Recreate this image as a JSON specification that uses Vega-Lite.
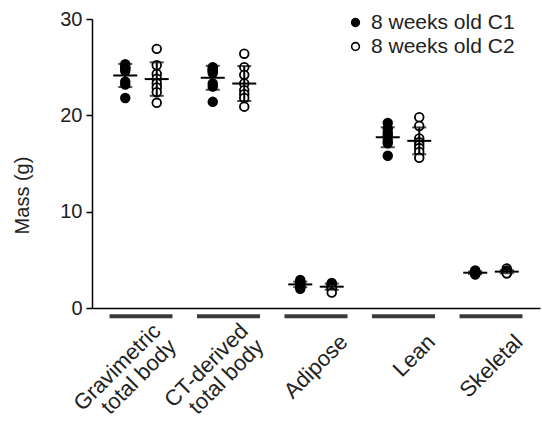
{
  "$schema": "https://vega.github.io/schema/vega-lite/v6.json",
  "width": 448,
  "height": 289,
  "autosize": {"type": "none"},
  "padding": {"left": 92, "top": 19, "right": 2, "bottom": 121},
  "background": "white",
  "config": {
    "view": {"stroke": null},
    "font": "Liberation Sans",
    "axis": {"grid": false, "domainColor": "black", "domainWidth": 1.5, "labelColor": "#222", "titleColor": "#222", "labelFont": "Liberation Sans", "titleFont": "Liberation Sans", "titleFontWeight": "normal"},
    "axisY": {
      "tickSize": 6,
      "tickWidth": 1.5,
      "tickColor": "black",
      "labelFontSize": 20,
      "labelPadding": 4,
      "titleFontSize": 20,
      "titleAngle": -90,
      "titleX": -70,
      "titleY": 176,
      "titleAlign": "center",
      "titleBaseline": "middle"
    },
    "legend": {"labelFont": "Liberation Sans"}
  },
  "datasets": {
    "mice": [
      {"tissue": "Gravimetric total body", "group": "8 weeks old C1", "mass": 25.3},
      {"tissue": "Gravimetric total body", "group": "8 weeks old C1", "mass": 25.0},
      {"tissue": "Gravimetric total body", "group": "8 weeks old C1", "mass": 24.8},
      {"tissue": "Gravimetric total body", "group": "8 weeks old C1", "mass": 24.9},
      {"tissue": "Gravimetric total body", "group": "8 weeks old C1", "mass": 24.6},
      {"tissue": "Gravimetric total body", "group": "8 weeks old C1", "mass": 23.5},
      {"tissue": "Gravimetric total body", "group": "8 weeks old C1", "mass": 23.2},
      {"tissue": "Gravimetric total body", "group": "8 weeks old C1", "mass": 21.8},
      {"tissue": "Gravimetric total body", "group": "8 weeks old C2", "mass": 26.9},
      {"tissue": "Gravimetric total body", "group": "8 weeks old C2", "mass": 25.2},
      {"tissue": "Gravimetric total body", "group": "8 weeks old C2", "mass": 24.3},
      {"tissue": "Gravimetric total body", "group": "8 weeks old C2", "mass": 23.8},
      {"tissue": "Gravimetric total body", "group": "8 weeks old C2", "mass": 23.3},
      {"tissue": "Gravimetric total body", "group": "8 weeks old C2", "mass": 22.9},
      {"tissue": "Gravimetric total body", "group": "8 weeks old C2", "mass": 22.4},
      {"tissue": "Gravimetric total body", "group": "8 weeks old C2", "mass": 21.3},
      {"tissue": "CT-derived total body", "group": "8 weeks old C1", "mass": 25.0},
      {"tissue": "CT-derived total body", "group": "8 weeks old C1", "mass": 24.8},
      {"tissue": "CT-derived total body", "group": "8 weeks old C1", "mass": 24.6},
      {"tissue": "CT-derived total body", "group": "8 weeks old C1", "mass": 24.4},
      {"tissue": "CT-derived total body", "group": "8 weeks old C1", "mass": 24.7},
      {"tissue": "CT-derived total body", "group": "8 weeks old C1", "mass": 23.3},
      {"tissue": "CT-derived total body", "group": "8 weeks old C1", "mass": 23.0},
      {"tissue": "CT-derived total body", "group": "8 weeks old C1", "mass": 21.4},
      {"tissue": "CT-derived total body", "group": "8 weeks old C2", "mass": 26.4},
      {"tissue": "CT-derived total body", "group": "8 weeks old C2", "mass": 25.0},
      {"tissue": "CT-derived total body", "group": "8 weeks old C2", "mass": 24.2},
      {"tissue": "CT-derived total body", "group": "8 weeks old C2", "mass": 23.3},
      {"tissue": "CT-derived total body", "group": "8 weeks old C2", "mass": 22.6},
      {"tissue": "CT-derived total body", "group": "8 weeks old C2", "mass": 22.2},
      {"tissue": "CT-derived total body", "group": "8 weeks old C2", "mass": 21.8},
      {"tissue": "CT-derived total body", "group": "8 weeks old C2", "mass": 20.9},
      {"tissue": "Adipose", "group": "8 weeks old C1", "mass": 2.9},
      {"tissue": "Adipose", "group": "8 weeks old C1", "mass": 2.7},
      {"tissue": "Adipose", "group": "8 weeks old C1", "mass": 2.6},
      {"tissue": "Adipose", "group": "8 weeks old C1", "mass": 2.5},
      {"tissue": "Adipose", "group": "8 weeks old C1", "mass": 2.4},
      {"tissue": "Adipose", "group": "8 weeks old C1", "mass": 2.3},
      {"tissue": "Adipose", "group": "8 weeks old C1", "mass": 2.2},
      {"tissue": "Adipose", "group": "8 weeks old C1", "mass": 2.0},
      {"tissue": "Adipose", "group": "8 weeks old C2", "mass": 2.6},
      {"tissue": "Adipose", "group": "8 weeks old C2", "mass": 2.5},
      {"tissue": "Adipose", "group": "8 weeks old C2", "mass": 2.4},
      {"tissue": "Adipose", "group": "8 weeks old C2", "mass": 2.3},
      {"tissue": "Adipose", "group": "8 weeks old C2", "mass": 2.2},
      {"tissue": "Adipose", "group": "8 weeks old C2", "mass": 2.1},
      {"tissue": "Adipose", "group": "8 weeks old C2", "mass": 2.0},
      {"tissue": "Adipose", "group": "8 weeks old C2", "mass": 1.6},
      {"tissue": "Lean", "group": "8 weeks old C1", "mass": 19.2},
      {"tissue": "Lean", "group": "8 weeks old C1", "mass": 18.6},
      {"tissue": "Lean", "group": "8 weeks old C1", "mass": 18.2},
      {"tissue": "Lean", "group": "8 weeks old C1", "mass": 17.9},
      {"tissue": "Lean", "group": "8 weeks old C1", "mass": 17.7},
      {"tissue": "Lean", "group": "8 weeks old C1", "mass": 17.3},
      {"tissue": "Lean", "group": "8 weeks old C1", "mass": 17.1},
      {"tissue": "Lean", "group": "8 weeks old C1", "mass": 15.8},
      {"tissue": "Lean", "group": "8 weeks old C2", "mass": 19.8},
      {"tissue": "Lean", "group": "8 weeks old C2", "mass": 18.9},
      {"tissue": "Lean", "group": "8 weeks old C2", "mass": 17.6},
      {"tissue": "Lean", "group": "8 weeks old C2", "mass": 17.2},
      {"tissue": "Lean", "group": "8 weeks old C2", "mass": 16.9},
      {"tissue": "Lean", "group": "8 weeks old C2", "mass": 16.6},
      {"tissue": "Lean", "group": "8 weeks old C2", "mass": 16.2},
      {"tissue": "Lean", "group": "8 weeks old C2", "mass": 15.6},
      {"tissue": "Skeletal", "group": "8 weeks old C1", "mass": 3.9},
      {"tissue": "Skeletal", "group": "8 weeks old C1", "mass": 3.8},
      {"tissue": "Skeletal", "group": "8 weeks old C1", "mass": 3.7},
      {"tissue": "Skeletal", "group": "8 weeks old C1", "mass": 3.7},
      {"tissue": "Skeletal", "group": "8 weeks old C1", "mass": 3.6},
      {"tissue": "Skeletal", "group": "8 weeks old C1", "mass": 3.6},
      {"tissue": "Skeletal", "group": "8 weeks old C1", "mass": 3.5},
      {"tissue": "Skeletal", "group": "8 weeks old C1", "mass": 3.5},
      {"tissue": "Skeletal", "group": "8 weeks old C2", "mass": 4.1},
      {"tissue": "Skeletal", "group": "8 weeks old C2", "mass": 3.9},
      {"tissue": "Skeletal", "group": "8 weeks old C2", "mass": 3.8},
      {"tissue": "Skeletal", "group": "8 weeks old C2", "mass": 3.8},
      {"tissue": "Skeletal", "group": "8 weeks old C2", "mass": 3.7},
      {"tissue": "Skeletal", "group": "8 weeks old C2", "mass": 3.7},
      {"tissue": "Skeletal", "group": "8 weeks old C2", "mass": 3.6},
      {"tissue": "Skeletal", "group": "8 weeks old C2", "mass": 3.6}
    ],
    "tissues": [
      {"tissue": "Gravimetric total body"},
      {"tissue": "CT-derived total body"},
      {"tissue": "Adipose"},
      {"tissue": "Lean"},
      {"tissue": "Skeletal"}
    ]
  },
  "encoding": {
    "x": {
      "field": "tissue",
      "type": "nominal",
      "scale": {
        "domain": ["Gravimetric total body", "CT-derived total body", "Adipose", "Lean", "Skeletal"],
        "paddingInner": 0.28,
        "paddingOuter": 0.2
      },
      "axis": {
        "title": null,
        "ticks": false,
        "tickSize": 0,
        "labelAngle": -45,
        "labelAlign": "right",
        "labelBaseline": "middle",
        "labelFontSize": 22,
        "labelLineHeight": 22,
        "labelPadding": {"condition": {"test": "indexof(datum.label, ' total body') > 0", "value": 19}, "value": 30},
        "labelOffset": {"condition": {"test": "indexof(datum.label, ' total body') > 0", "value": 16}, "value": 28},
        "labelOverlap": false,
        "labelBound": false,
        "labelFlush": false,
        "labelExpr": "indexof(datum.label, ' total body') > 0 ? [replace(datum.label, ' total body', ''), 'total body'] : datum.label"
      }
    }
  },
  "layer": [
    {
      "description": "Grouping bars under the category axis",
      "data": {"name": "tissues"},
      "mark": {"type": "bar", "color": "#3a3a3a", "clip": false},
      "encoding": {
        "y": {"datum": -0.64, "type": "quantitative", "title": "Mass (g)", "scale": {"domain": [0, 30], "nice": false, "zero": true}, "axis": {"values": [0, 10, 20, 30]}},
        "y2": {"datum": -1.06}
      }
    },
    {
      "description": "Individual animals",
      "data": {"name": "mice"},
      "mark": {"type": "point", "shape": "circle", "filled": true, "size": 75, "stroke": "black", "strokeWidth": 1.8, "opacity": 1},
      "encoding": {
        "xOffset": {"field": "group", "type": "nominal", "scale": {"paddingInner": 0, "paddingOuter": 0}},
        "y": {
          "field": "mass",
          "type": "quantitative",
          "title": "Mass (g)",
          "scale": {"domain": [0, 30], "nice": false},
          "axis": {"values": [0, 10, 20, 30]}
        },
        "fill": {
          "field": "group",
          "type": "nominal",
          "scale": {"domain": ["8 weeks old C1", "8 weeks old C2"], "range": ["black", "white"]},
          "legend": {
            "title": null,
            "orient": "none",
            "legendX": 253,
            "legendY": -7,
            "padding": 0,
            "labelFontSize": 21,
            "labelColor": "#222",
            "labelOffset": 5,
            "rowPadding": 2,
            "symbolSize": 60,
            "symbolStrokeColor": "black",
            "symbolStrokeWidth": 1.6,
            "symbolType": "circle"
          }
        }
      }
    },
    {
      "description": "Group means",
      "data": {"name": "mice"},
      "mark": {"type": "tick", "color": "black", "size": 24, "thickness": 2},
      "encoding": {
        "xOffset": {"field": "group", "type": "nominal"},
        "y": {"aggregate": "mean", "field": "mass", "type": "quantitative", "title": "Mass (g)"}
      }
    },
    {
      "description": "Mean plus or minus one standard deviation",
      "data": {"name": "mice"},
      "mark": {"type": "errorbar", "extent": "stdev", "color": "black", "thickness": 2, "ticks": {"size": 14, "thickness": 2, "color": "black"}},
      "encoding": {
        "xOffset": {"field": "group", "type": "nominal"},
        "y": {"field": "mass", "type": "quantitative", "title": "Mass (g)"}
      }
    }
  ]
}
